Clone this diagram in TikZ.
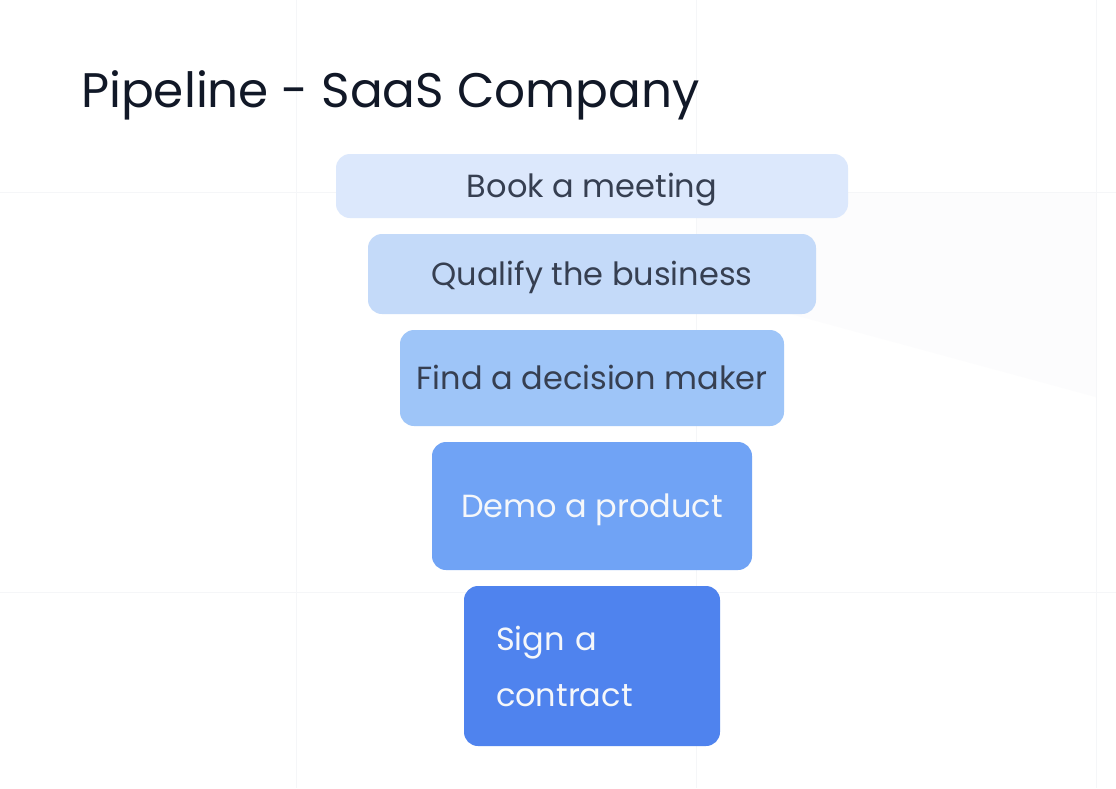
\documentclass[tikz,border=0pt]{standalone}
\usepackage{fontspec}
\setmainfont{Poppins}
\definecolor{gridc}{HTML}{F5F6F8}
\definecolor{shadec}{HTML}{FCFCFD}
\definecolor{titlec}{HTML}{111827}
\definecolor{darktext}{HTML}{363F51}
\definecolor{lighttext}{HTML}{F5F7FA}
\definecolor{c1}{HTML}{DCE8FC}
\definecolor{c2}{HTML}{C4DAF9}
\definecolor{c3}{HTML}{9EC5F8}
\definecolor{c4}{HTML}{70A3F5}
\definecolor{c5}{HTML}{4F83EE}
\tikzset{
  stage/.style={draw=none, rounded corners=14pt, inner sep=0pt, align=center,
    font=\fontsize{32}{56}\selectfont, text height=23pt, text depth=0pt},
  gridline/.style={draw=gridc, line width=1pt},
}
\begin{document}
\begin{tikzpicture}[x=1pt,y=-1pt]
\useasboundingbox[fill=white] (0,0) rectangle (1116,788);
% faint background shading and grid
\fill[shadec] (696,192) -- (1096,192) -- (1096,397) -- (787,313) -- (696,300) -- cycle;
\draw[gridline] (296,0) -- (296,788);
\draw[gridline] (696,0) -- (696,788);
\draw[gridline] (1096,0) -- (1096,788);
\draw[gridline] (0,192) -- (1116,192);
\draw[gridline] (0,592) -- (1116,592);
% title
\node[anchor=base west, inner sep=0pt, text=titlec, font=\fontsize{48.5}{56}\selectfont] (title) at (81,107.5) {Pipeline - SaaS Company};
% stages
\node[stage, fill=c1, text=darktext, minimum width=512pt, minimum height=64pt] (s1) at (592,186) {Book a meeting};
\node[stage, fill=c2, text=darktext, minimum width=448pt, minimum height=80pt] (s2) at (592,274) {Qualify the business};
\node[stage, fill=c3, text=darktext, minimum width=384pt, minimum height=96pt] (s3) at (592,378) {Find a decision maker};
\node[stage, fill=c4, text=lighttext, minimum width=320pt, minimum height=128pt] (s4) at (592,506) {Demo a product};
\node[draw=none, rounded corners=14pt, inner xsep=32pt, inner ysep=0pt, fill=c5, text=lighttext,
  font=\fontsize{32}{56}\selectfont, text width=192pt, align=left,
  minimum width=256pt, minimum height=160pt] (s5) at (592,666) {Sign a\\contract};
\end{tikzpicture}
\end{document}
